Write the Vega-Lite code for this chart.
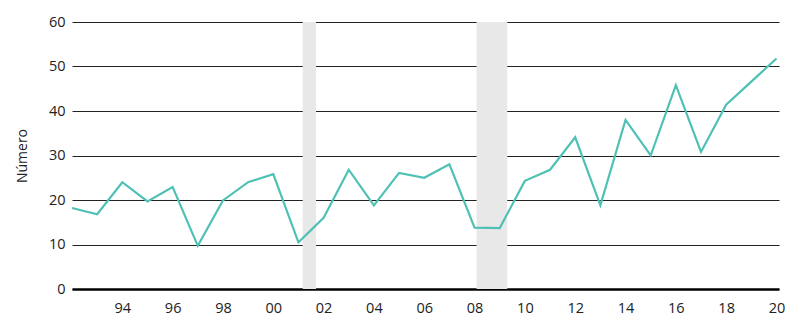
{
  "$schema": "https://vega.github.io/schema/vega-lite/v6.json",
  "width": 707,
  "height": 267,
  "autosize": {"type": "none"},
  "padding": {"left": 72, "top": 22, "right": 8, "bottom": 27},
  "config": {
    "view": {"stroke": null},
    "font": "Open Sans"
  },
  "datasets": {
    "series": [
      {"year": 1992, "value": 18.2},
      {"year": 1993, "value": 16.8},
      {"year": 1994, "value": 24.0},
      {"year": 1995, "value": 19.7},
      {"year": 1996, "value": 22.9},
      {"year": 1997, "value": 9.7},
      {"year": 1998, "value": 19.9},
      {"year": 1999, "value": 24.0},
      {"year": 2000, "value": 25.8},
      {"year": 2001, "value": 10.5},
      {"year": 2002, "value": 16.0},
      {"year": 2003, "value": 26.8},
      {"year": 2004, "value": 18.8},
      {"year": 2005, "value": 26.1},
      {"year": 2006, "value": 25.0},
      {"year": 2007, "value": 28.0},
      {"year": 2008, "value": 13.8},
      {"year": 2009, "value": 13.7},
      {"year": 2010, "value": 24.3},
      {"year": 2011, "value": 26.8},
      {"year": 2012, "value": 34.1},
      {"year": 2013, "value": 18.8},
      {"year": 2014, "value": 38.0},
      {"year": 2015, "value": 30.0},
      {"year": 2016, "value": 45.8},
      {"year": 2017, "value": 30.8},
      {"year": 2018, "value": 41.4},
      {"year": 2019, "value": 46.6},
      {"year": 2020, "value": 51.8}
    ],
    "bands": [
      {"start": 2001.17, "end": 2001.7},
      {"start": 2008.08, "end": 2009.3}
    ]
  },
  "layer": [
    {
      "data": {"name": "bands"},
      "mark": {"type": "rect", "color": "#e8e8e8"},
      "encoding": {
        "x": {"field": "start", "type": "quantitative", "scale": {"domain": [1992, 2020.1], "nice": false, "zero": false}},
        "x2": {"field": "end"}
      }
    },
    {
      "data": {"name": "series"},
      "mark": {"type": "line", "color": "#4fc1b4", "strokeWidth": 2.2},
      "encoding": {
        "x": {
          "field": "year",
          "type": "quantitative",
          "scale": {"domain": [1992, 2020.1], "nice": false, "zero": false},
          "axis": {
            "title": null,
            "values": [1994, 1996, 1998, 2000, 2002, 2004, 2006, 2008, 2010, 2012, 2014, 2016, 2018, 2020],
            "labelExpr": "slice(toString(datum.value), 2)",
            "grid": false,
            "ticks": false,
            "domain": true,
            "domainColor": "#000000",
            "domainWidth": 2.5,
            "labelFontSize": 14.5,
            "labelColor": "#222222",
            "labelPadding": 12,
            "labelFlush": false,
            "labelOverlap": false
          }
        },
        "y": {
          "field": "value",
          "type": "quantitative",
          "scale": {"domain": [0, 60], "nice": false},
          "axis": {
            "title": "Número",
            "titleFontSize": 14,
            "titleFontWeight": "normal",
            "titleColor": "#222222",
            "titlePadding": 19,
            "values": [0, 10, 20, 30, 40, 50, 60],
            "grid": true,
            "gridColor": "#222222",
            "gridWidth": 1,
            "gridOpacity": 1,
            "ticks": false,
            "domain": false,
            "labelFontSize": 14.5,
            "labelColor": "#222222",
            "labelPadding": 7
          }
        }
      }
    }
  ]
}
